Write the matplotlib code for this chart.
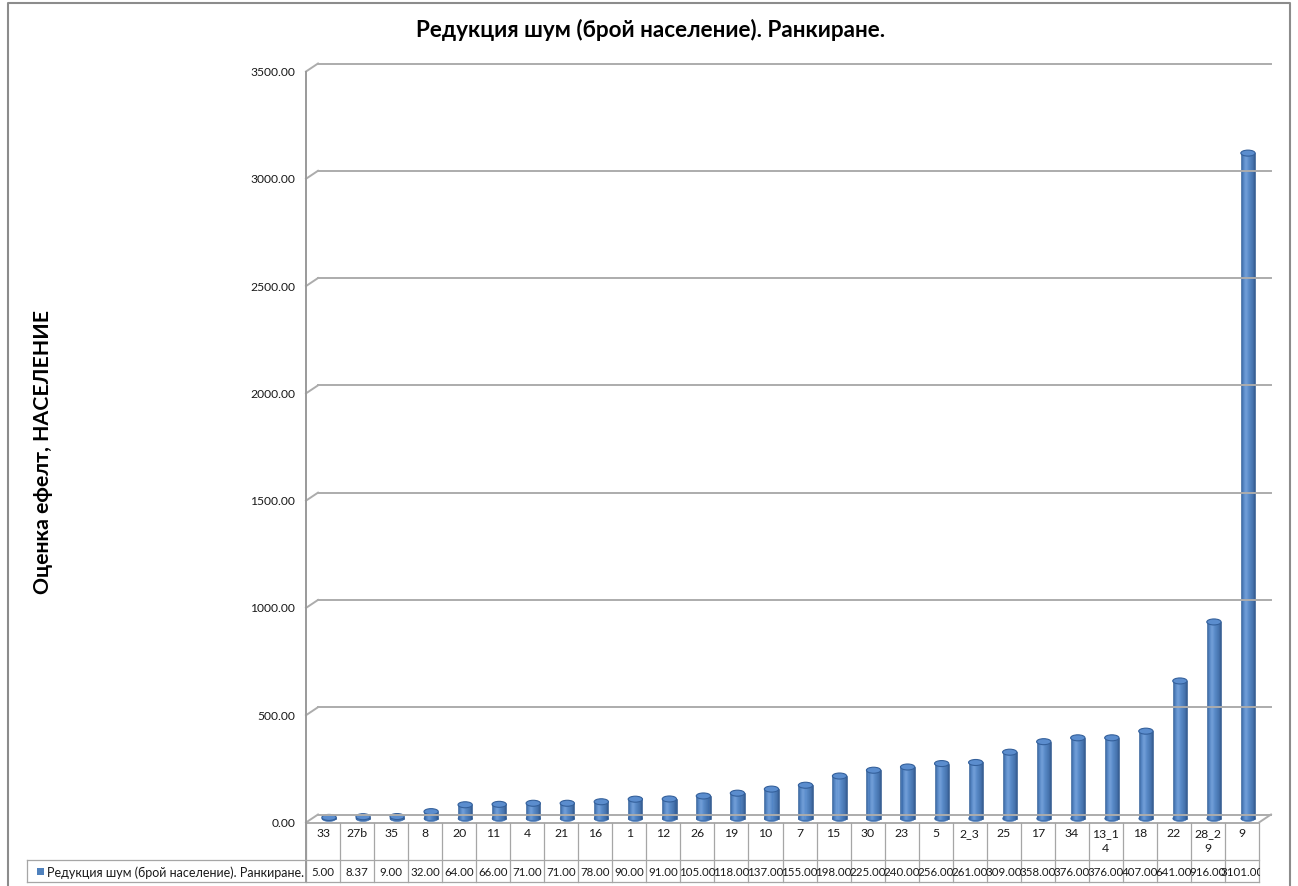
import numpy as np
import matplotlib
matplotlib.use("Agg")
import matplotlib.pyplot as plt
from matplotlib import transforms
from matplotlib.patches import Ellipse, Rectangle
from matplotlib.lines import Line2D
from matplotlib.colors import LinearSegmentedColormap

# ---- data -------------------------------------------------------------
categories = ["33", "27b", "35", "8", "20", "11", "4", "21", "16", "1", "12", "26",
              "19", "10", "7", "15", "30", "23", "5", "2_3", "25", "17", "34",
              "13_14", "18", "22", "28_29", "9"]
values = [5.00, 8.37, 9.00, 32.00, 64.00, 66.00, 71.00, 71.00, 78.00, 90.00,
          91.00, 105.00, 118.00, 137.00, 155.00, 198.00, 225.00, 240.00, 256.00,
          261.00, 309.00, 358.00, 376.00, 376.00, 407.00, 641.00, 916.00, 3101.00]
y_ticks = [0, 500, 1000, 1500, 2000, 2500, 3000, 3500]
series_name = "Редукция шум (брой население). Ранкиране."
chart_title = "Редукция шум (брой население). Ранкиране."
y_title = "Оценка ефелт, НАСЕЛЕНИЕ"

# ---- styling ----------------------------------------------------------
FONT = ["Lato", "Open Sans", "DejaVu Sans"]
plt.rcParams["font.family"] = FONT
GRID = "#acacac"
TABLE_LINE = "#a6a6a6"
W, H = 1298, 887
DX, DY = 12, 8            # depth of the 3-D floor/walls in pixels
BAR_W = 0.42              # cylinder diameter in category units
CAP_PX = 6                # apparent height of the elliptical caps
N_STRIPS = 14

fig = plt.figure(figsize=(W / 100, H / 100), dpi=100)
fig.patch.set_facecolor("white")

# image-pixel coordinates (origin top-left)
pix = transforms.Affine2D().scale(1, -1).translate(0, H)

ax_left, ax_right, ax_bottom, ax_top = 306, 1259, 823.5, 72.5
ax = fig.add_axes([ax_left / W, 1 - ax_bottom / H,
                   (ax_right - ax_left) / W, (ax_bottom - ax_top) / H])
n = len(categories)
ax.set_xlim(-0.5, n - 0.5)
ax.set_ylim(y_ticks[0], y_ticks[-1])
ax.axis("off")

front = ax.transData
mid = transforms.offset_copy(ax.transData, fig=fig, x=DX / 2, y=DY / 2, units="dots")
back = transforms.offset_copy(ax.transData, fig=fig, x=DX, y=DY, units="dots")
ident = transforms.IdentityTransform()
col_pix = transforms.blended_transform_factory(ax.transData, pix)


def depth_line(x, y, **kw):
    p0 = front.transform((x, y))
    p1 = back.transform((x, y))
    fig.add_artist(Line2D([p0[0], p1[0]], [p0[1], p1[1]], transform=ident, **kw))


# ---- outer chart border ----------------------------------------------
fig.add_artist(Line2D([8, 8, 1290, 1290], [H + 5, 4, 4, H + 5], transform=pix,
                      color="#8c8c8c", lw=1.5))

# ---- walls, gridlines and floor --------------------------------------
x0, x1 = -0.5, n - 0.5
for v in y_ticks:
    ax.plot([x0, x1], [v, v], color=GRID, lw=1.4, transform=back, clip_on=False)
    depth_line(x0, v, color=GRID, lw=1.4)
# floor front edge and right side
ax.plot([x0, x1], [0, 0], color=GRID, lw=1.4, transform=front, clip_on=False)
depth_line(x1, 0, color=GRID, lw=1.4)
# value axis line continuing down through the table
fig.add_artist(Line2D([ax_left, ax_left], [ax_top, 883], transform=pix,
                      color="#9a9a9a", lw=1.4))

# tick labels
tick_tr = transforms.offset_copy(ax.transData, fig=fig, x=-11, y=0, units="dots")
for v in y_ticks:
    ax.text(x0, v, f"{v:.2f}", transform=tick_tr, ha="right", va="center",
            fontsize=8.7, color="#1a1a1a", clip_on=False)

# ---- cylinders -------------------------------------------------------
cyl = LinearSegmentedColormap.from_list(
    "cyl", [(0.0, "#2c5790"), (0.15, "#4a7dbf"), (0.35, "#6d9cd8"),
            (0.55, "#5185c6"), (0.85, "#3d6ca9"), (1.0, "#2a5287")])
xs = np.arange(n)
vals = np.asarray(values)
cap_h = CAP_PX / ax.bbox.height * (y_ticks[-1] - y_ticks[0])

# rounded bottoms
for i in xs:
    ax.add_patch(Ellipse((i, 0), BAR_W, cap_h, transform=mid, facecolor="#4474b2",
                         edgecolor="#4474b2", lw=0.4, clip_on=False))
sw = BAR_W / N_STRIPS
for k in range(N_STRIPS):
    c = cyl((k + 0.5) / N_STRIPS)
    ax.bar(xs - BAR_W / 2 + (k + 0.5) * sw, vals, width=sw, bottom=0,
           color=c, edgecolor=c, lw=0.4, transform=mid, clip_on=False)
for i, v in zip(xs, vals):
    ax.add_patch(Ellipse((i, v), BAR_W, cap_h, transform=mid, facecolor="#5b8dce",
                         edgecolor="#34609b", lw=0.8, clip_on=False))

# ---- data table ------------------------------------------------------
t_top, t_mid, t_bot, t_left = 823.5, 861, 883, 27
for k in range(n + 1):
    ax.plot([k - 0.5, k - 0.5], [t_top, t_bot], transform=col_pix,
            color=TABLE_LINE, lw=0.9, clip_on=False)
right_px = front.transform((x1, 0))[0]
for yy in (t_mid, t_bot):
    fig.add_artist(Line2D([t_left, right_px], [H - yy, H - yy], transform=ident,
                          color=TABLE_LINE, lw=0.9))
fig.add_artist(Line2D([t_left, t_left], [t_mid, t_bot], transform=pix,
                      color=TABLE_LINE, lw=0.9))

clip = transforms.Bbox.from_extents(t_left, H - t_bot, right_px + 1, H - t_top)
for i, (cat, v) in enumerate(zip(categories, values)):
    label = cat if len(cat) <= 4 else cat[:4] + "\n" + cat[4:]
    ax.text(i, 828.5, label, transform=col_pix, ha="center", va="top",
            fontsize=8.8, linespacing=1.35, color="#1a1a1a", clip_on=False)
    t = ax.text(i, 872.5, f"{v:.2f}", transform=col_pix, ha="center", va="center",
                fontsize=8.3, color="#1a1a1a")
    t.set_clip_box(clip)
    t.set_clip_on(True)

fig.add_artist(Rectangle((37, 868.5), 7, 7, transform=pix, facecolor="#4f81bd",
                         edgecolor="none"))
fig.text(47, 872.5, series_name, transform=pix, ha="left", va="center",
         fontsize=9.0, color="#1a1a1a")

# ---- titles ----------------------------------------------------------
fig.text(651, 30, chart_title, transform=pix, ha="center", va="center",
         fontsize=16.2, fontweight="bold", color="#000000")
fig.text(43, 452, y_title, transform=pix, ha="center", va="center",
         rotation=90, fontsize=15.3, fontweight="bold", color="#000000")

fig.savefig("out.png", dpi=100)
